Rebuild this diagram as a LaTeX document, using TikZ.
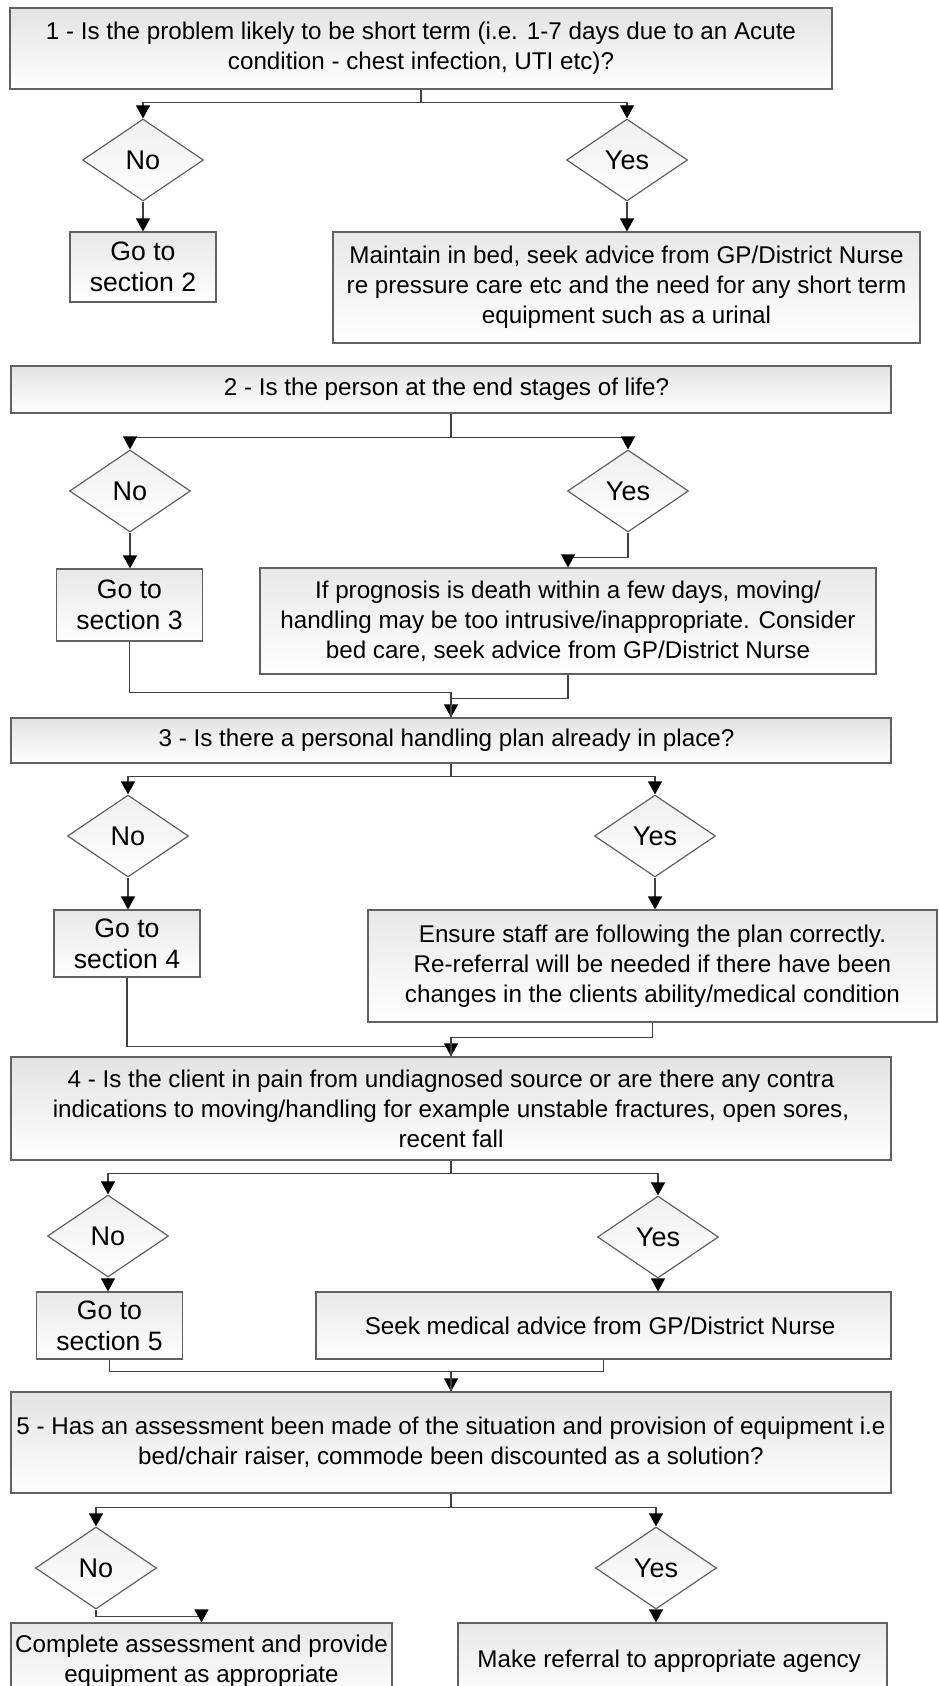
\documentclass[tikz,border=0pt]{standalone}
\usepackage{fontspec}
\setmainfont{Liberation Sans}
\usetikzlibrary{arrows.meta,shapes.geometric,calc}

\begin{document}
\begin{tikzpicture}[
  x=0.5pt, y=-0.5pt,
  font=\fontsize{12.1}{15}\selectfont,
  >={Triangle[width=7pt,length=6.5pt,color=black]},
  question/.style={
    rectangle, draw=black!62, line width=0.6pt,
    top color=black!11, bottom color=white,
    align=center, inner sep=0pt
  },
  action/.style={
    rectangle, draw=black!62, line width=0.6pt,
    top color=black!9, bottom color=white,
    align=center, inner sep=0pt
  },
  goto/.style={
    action, font=\fontsize{13.3}{15.5}\selectfont,
    minimum width=73pt
  },
  decision/.style={
    diamond, draw=black!62, line width=0.6pt,
    top color=black!6, bottom color=white,
    minimum width=60.5pt, minimum height=41pt, inner sep=0pt,
    font=\fontsize{13.5}{16}\selectfont
  },
  arr/.style={->, line width=0.6pt, black!75},
  line/.style={line width=0.6pt, black!75}
]
\useasboundingbox (0,0) rectangle (938,1686);
\clip (0,0) rectangle (938,1686);

%% -- Section 1 ---------------------------------------------------------
\node[question, minimum width=411pt, minimum height=40.5pt] (q1) at (421,48.5) {
  1 - Is the problem likely to be short term (i.e. 1-7 days due to an Acute\\
  condition - chest infection, UTI etc)?
};
\node[decision] (d1n) at (143,160) {No};
\node[decision] (d1y) at (627,160) {Yes};
\node[goto, minimum height=35pt] (g2) at (143,267) {Go to\\section 2};
\node[action, minimum width=293.5pt, minimum height=55.5pt] (m1) at (626.5,287.5) {
  Maintain in bed, seek advice from GP/District Nurse\\
  re pressure care etc and the need for any short term\\
  equipment such as a urinal
};

\draw[line] (q1.south) -- ++(0,13) coordinate (j1);
\draw[arr] (j1) -| (d1n.north);
\draw[arr] (j1) -| (d1y.north);
\draw[arr] (d1n.south) -- (d1n.south |- g2.north);
\draw[arr] (d1y.south) -- (d1y.south |- m1.north);

%% -- Section 2 ---------------------------------------------------------
\node[question, minimum width=440pt, minimum height=23.5pt] (q2) at (451,389.5) {
  2 - Is the person at the end stages of life?
};
\node[decision] (d2n) at (130,491) {No};
\node[decision] (d2y) at (628,491) {Yes};
\node[goto, minimum height=36pt] (g3) at (129.5,605) {Go to\\section 3};
\node[action, minimum width=308pt, minimum height=53pt] (p2) at (568,621) {
  If prognosis is death within a few days, moving/\\
  handling may be too intrusive/inappropriate. Consider\\
  bed care, seek advice from GP/District Nurse
};

\draw[line] (q2.south) -- ++(0,24) coordinate (j2);
\draw[arr] (j2) -| (d2n.north);
\draw[arr] (j2) -| (d2y.north);
\draw[arr] (d2n.south) -- (d2n.south |- g3.north);
\draw[arr] (d2y.south) -- ++(0,25) -| (p2.north);

%% -- Section 3 ---------------------------------------------------------
\node[question, minimum width=440pt, minimum height=22.5pt] (q3) at (451,740.5) {
  3 - Is there a personal handling plan already in place?
};
\draw[arr] (g3.south) -- ++(0,51) -| (q3.north);
\draw[line] (p2.south) -- ++(0,24) -| (q3.north);

\node[decision] (d3n) at (128,836) {No};
\node[decision] (d3y) at (655,836) {Yes};
\node[goto, minimum height=33.5pt] (g4) at (127,943.5) {Go to\\section 4};
\node[action, minimum width=284.5pt, minimum height=56pt] (e3) at (652.5,966) {
  Ensure staff are following the plan correctly.\\
  Re-referral will be needed if there have been\\
  changes in the clients ability/medical condition
};

\draw[line] (q3.south) -- ++(0,13) coordinate (j3);
\draw[arr] (j3) -| (d3n.north);
\draw[arr] (j3) -| (d3y.north);
\draw[arr] (d3n.south) -- (d3n.south |- g4.north);
\draw[arr] (d3y.south) -- (d3y.south |- e3.north);

%% -- Section 4 ---------------------------------------------------------
\node[question, minimum width=440pt, minimum height=51.5pt] (q4) at (451,1108.5) {
  4 - Is the client in pain from undiagnosed source or are there any contra\\
  indications to moving/handling for example unstable fractures, open sores,\\
  recent fall
};
\draw[arr] (g4.south) -- ++(0,69) -| (q4.north);
\draw[line] (e3.south) -- ++(0,15) -| (q4.north);

\node[decision] (d4n) at (108,1236) {No};
\node[decision] (d4y) at (658,1237) {Yes};
\node[goto, minimum height=33.5pt] (g5) at (109.5,1325.5) {Go to\\section 5};
\node[action, minimum width=287.5pt, minimum height=33.5pt] (s4) at (603.5,1325.5) {
  Seek medical advice from GP/District Nurse
};

\draw[line] (q4.south) -- ++(0,13) coordinate (j4);
\draw[arr] (j4) -| (d4n.north);
\draw[arr] (j4) -| (d4y.north);
\draw[arr] (d4n.south) -- (d4n.south |- g5.north);
\draw[arr] (d4y.south) -- (d4y.south |- s4.north);

%% -- Section 5 ---------------------------------------------------------
\node[question, minimum width=440pt, minimum height=50.5pt] (q5) at (451,1442.5) {
  5 - Has an assessment been made of the situation and provision of equipment i.e\\
  bed/chair raiser, commode been discounted as a solution?
};
\draw[arr] (g5.south) -- ++(0,12) -| (q5.north);
\draw[line] (s4.south) -- ++(0,12) -| (q5.north);

\node[decision] (d5n) at (96,1568) {No};
\node[decision] (d5y) at (656,1568) {Yes};
\node[action, minimum width=190.5pt, minimum height=38.5pt] (c5) at (201.5,1661.5) {
  Complete assessment and provide\\
  equipment as appropriate
};
\node[action, minimum width=214.5pt, minimum height=38.5pt] (r5) at (672.5,1661.5) {
  Make referral to appropriate agency
};

\draw[line] (q5.south) -- ++(0,14) coordinate (j5);
\draw[arr] (j5) -| (d5n.north);
\draw[arr] (j5) -| (d5y.north);
\draw[arr] (d5n.south) -- ++(0,7) -| (c5.north);
\draw[arr] (d5y.south) -- (d5y.south |- r5.north);

\end{tikzpicture}
\end{document}
